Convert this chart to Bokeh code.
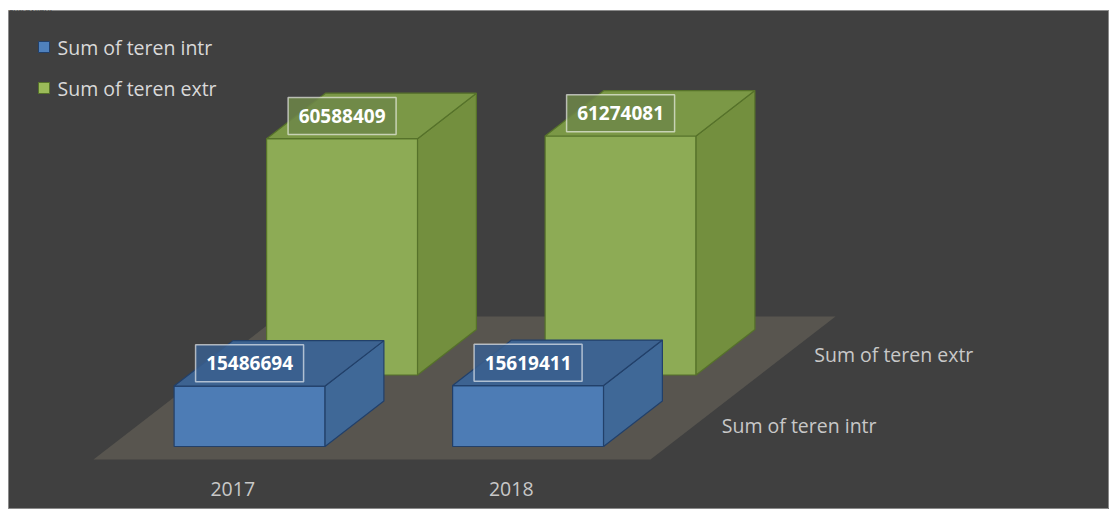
from bokeh.plotting import figure
from bokeh.models import Range1d, ColumnDataSource, Label
from bokeh.embed import file_html
from bokeh.resources import INLINE
from bokeh.core.properties import value

# ---------------- data ----------------
years = ["2017", "2018"]
series_names = ["Sum of teren  intr", "Sum of teren extr"]
teren_intr = [15486694, 15619411]
teren_extr = [60588409, 61274081]
series_values = [teren_intr, teren_extr]
page_text = "extravilan."

# ---------------- styling / layout ----------------
FW, FH = 1109, 509
LEFT_BORDER, TOP_BORDER = 8, 10
FONT = "Open Sans"
BG = "#404040"
FLOOR = "#58554f"
colors = {
    0: dict(front="#4d7cb5", right="#3f6897", top="#3d6391", edge="#22406a",
            label="#3a5f8e", legend="#4f81bd"),
    1: dict(front="#8dab55", right="#738f3e", top="#7b9846", edge="#56722a",
            label="#6f8749", legend="#9bbb59"),
}

# oblique 3D projection (page pixels -> figure data space)
ORIGIN = (93.0, 459.0)      # front-left corner of the floor
CAT_STEP = 278.5            # horizontal size of one category slot
ROW_DX, ROW_DY = 92.5, 71.5 # shift per unit of depth (one series row)
VAL_K = 3.9e-6              # pixels per unit of value
BAR_W = 0.542               # bar width, fraction of a category slot
BAR_D = 0.636               # bar depth, fraction of a row


def to_data(px, py):
    return px - LEFT_BORDER, FH - py


def P(u, d, v):
    px = ORIGIN[0] + u * CAT_STEP + d * ROW_DX
    py = ORIGIN[1] - d * ROW_DY - v * VAL_K
    return to_data(px, py)


def quad(pts):
    return [q[0] for q in pts], [q[1] for q in pts]


p = figure(width=FW, height=FH, output_backend="svg", toolbar_location=None,
           x_range=Range1d(0, FW - LEFT_BORDER), y_range=Range1d(0, FH - TOP_BORDER),
           min_border_left=LEFT_BORDER, min_border_right=0, min_border_bottom=0,
           min_border_top=TOP_BORDER)
p.background_fill_color = BG
p.border_fill_color = "white"
p.outline_line_color = "#8a8a8a"
p.outline_line_width = 1
p.axis.visible = False
p.grid.visible = False

n_cat = len(years)
n_row = len(series_names)

# floor
fx, fy = quad([P(0, 0, 0), P(n_cat, 0, 0), P(n_cat, n_row, 0), P(0, n_row, 0)])
p.patch(fx, fy, fill_color=FLOOR, line_color=None)

# bars, back row first
for j in reversed(range(n_row)):
    vals = series_values[j]
    c = colors[j]
    faces = {"front": ([], []), "right": ([], []), "top": ([], [])}
    lx, ly, lt = [], [], []
    for i in range(n_cat):
        v = vals[i]
        u0 = i + 0.5 - BAR_W / 2
        u1 = i + 0.5 + BAR_W / 2
        d0 = j + 0.5 - BAR_D / 2
        d1 = j + 0.5 + BAR_D / 2
        for name, pts in (
            ("front", [P(u0, d0, 0), P(u1, d0, 0), P(u1, d0, v), P(u0, d0, v)]),
            ("right", [P(u1, d0, 0), P(u1, d1, 0), P(u1, d1, v), P(u1, d0, v)]),
            ("top", [P(u0, d0, v), P(u1, d0, v), P(u1, d1, v), P(u0, d1, v)]),
        ):
            xs, ys = quad(pts)
            faces[name][0].append(xs)
            faces[name][1].append(ys)
        lx.append(P(i + 0.5, d0, v)[0])
        ly.append(P(i + 0.5, j + 0.5, v)[1])
        lt.append(str(v))
    for name in ("front", "right", "top"):
        p.patches(faces[name][0], faces[name][1], fill_color=c[name],
                  line_color=c["edge"], line_width=1.2)

    src = ColumnDataSource(dict(x=lx, y=ly, t=lt))
    p.rect(x="x", y="y", width=108, height=37, width_units="screen",
           height_units="screen", source=src, fill_color=c["label"], fill_alpha=0.85,
           line_color="white", line_alpha=0.6, line_width=1.5)
    p.text(x="x", y="y", text="t", source=src, text_align="center",
           text_baseline="middle", text_color="white", text_font=value(FONT),
           text_font_style="bold", text_font_size="19px")

# category labels along the floor front edge
cx = [P(i + 0.5, 0, 0)[0] for i in range(n_cat)]
cy = [P(i + 0.5, 0, 0)[1] - 29 for i in range(n_cat)]
p.text(x=cx, y=cy, text=years, text_align="center", text_baseline="middle",
       text_color="#c8c8c8", text_font=value(FONT), text_font_size="19.5px")

# series labels along the floor right edge
sx = [P(n_cat, j + 0.5, 0)[0] + 25 for j in range(n_row)]
sy = [P(n_cat, j + 0.5, 0)[1] - 2 for j in range(n_row)]
p.text(x=sx, y=sy, text=series_names, text_align="left", text_baseline="middle",
       text_color="#c8c8c8", text_font=value(FONT), text_font_size="19.5px")

# legend (top-left)
leg_px = [43.5, 43.5]
leg_py = [46.5, 87.5]
gx = [to_data(a, b)[0] for a, b in zip(leg_px, leg_py)]
gy = [to_data(a, b)[1] for a, b in zip(leg_px, leg_py)]
p.rect(x=gx, y=gy, width=11, height=11, width_units="screen", height_units="screen",
       fill_color=[colors[j]["legend"] for j in range(n_row)],
       line_color=[colors[j]["edge"] for j in range(n_row)], line_width=1)
p.text(x=[g + 13.5 for g in gx], y=gy, text=series_names, text_align="left",
       text_baseline="middle", text_color="#d9d9d9", text_font=value(FONT),
       text_font_size="19.5px")

# end of the document sentence that sits above the chart (white strip)
p.add_layout(Label(x=0, y=FH - TOP_BORDER + TOP_BORDER, x_units="screen",
                   y_units="screen", text=page_text, text_font=FONT,
                   text_font_size="9px", text_color="black", text_baseline="top"))

open("out.html", "w").write(file_html(p, INLINE))
